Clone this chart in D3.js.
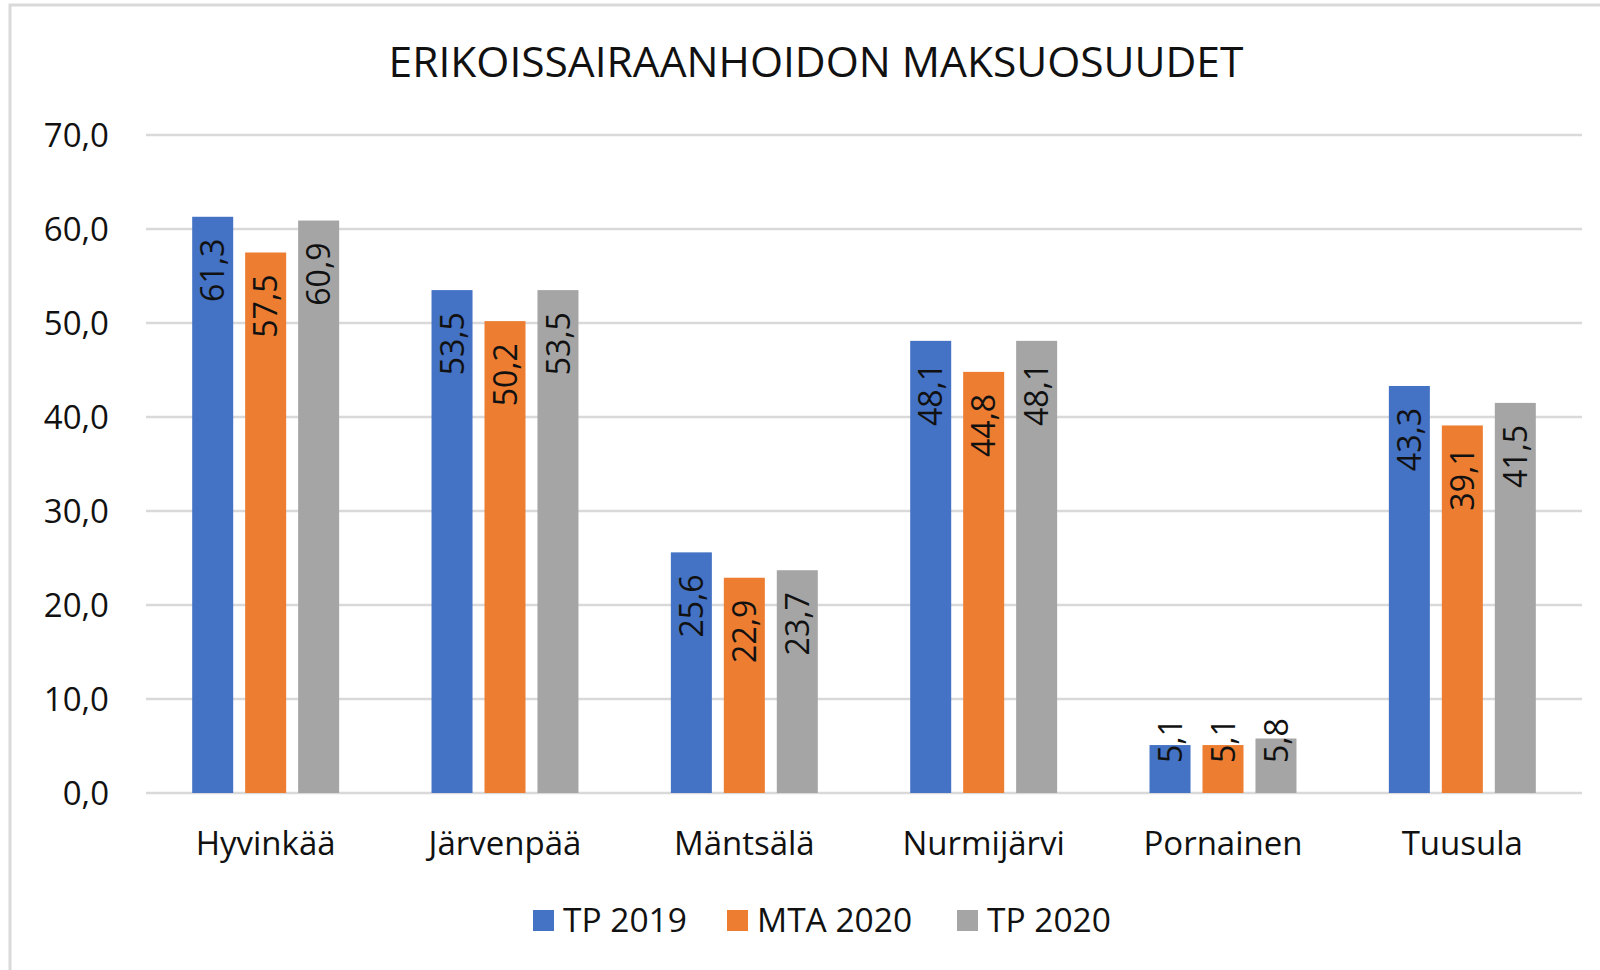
<!DOCTYPE html>
<html>
<head>
<meta charset="utf-8">
<script src="https://cdn.jsdelivr.net/npm/d3@7"></script>
<style>
  body { margin: 0; background: #fff; }
  text { font-family: "Open Sans", sans-serif; fill: #111; }
</style>
</head>
<body>
<div id="chart"></div>
<script>
const title = "ERIKOISSAIRAANHOIDON MAKSUOSUUDET";
const categories = ["Hyvinkää", "Järvenpää", "Mäntsälä", "Nurmijärvi", "Pornainen", "Tuusula"];
const seriesNames = ["TP 2019", "MTA 2020", "TP 2020"];
const tp2019 = [61.3, 53.5, 25.6, 48.1, 5.1, 43.3];
const mta2020 = [57.5, 50.2, 22.9, 44.8, 5.1, 39.1];
const tp2020 = [60.9, 53.5, 23.7, 48.1, 5.8, 41.5];
const yTicks = [0, 10, 20, 30, 40, 50, 60, 70];
const colors = ["#4472C4", "#ED7D31", "#A5A5A5"];

const series = [tp2019, mta2020, tp2020];
const fmt = (v) => v.toFixed(1).replace(".", ",");

const width = 1600, height = 970;
const svg = d3.select("#chart").append("svg")
  .attr("width", width)
  .attr("height", height);

// outer frame (runs off the right and bottom edges)
svg.append("rect")
  .attr("x", 10).attr("y", 5)
  .attr("width", 1620).attr("height", 1000)
  .attr("fill", "none")
  .attr("stroke", "#d9d9d9")
  .attr("stroke-width", 3);

svg.append("text")
  .attr("x", 816).attr("y", 77)
  .attr("text-anchor", "middle")
  .style("font-size", "42.5px")
  .text(title);

const x0 = d3.scaleBand()
  .domain(categories)
  .range([146, 1582])
  .paddingInner(0.386)
  .paddingOuter(0.193);

const x1 = d3.scaleBand()
  .domain(seriesNames)
  .range([0, x0.bandwidth()])
  .paddingInner(0.226);

const y = d3.scaleLinear()
  .domain([0, 70])
  .range([793, 135]);

// gridlines
svg.append("g")
  .selectAll("line")
  .data(yTicks)
  .join("line")
  .attr("x1", 146).attr("x2", 1582)
  .attr("y1", (d) => y(d)).attr("y2", (d) => y(d))
  .attr("stroke", "#d9d9d9")
  .attr("stroke-width", 2.5);

// y axis labels
svg.append("g")
  .selectAll("text")
  .data(yTicks)
  .join("text")
  .attr("x", 109)
  .attr("y", (d) => y(d))
  .attr("dy", "0.36em")
  .attr("text-anchor", "end")
  .style("font-size", "33px")
  .text(fmt);

// bars
const bars = [];
categories.forEach((c, i) => {
  seriesNames.forEach((s, j) => {
    bars.push({ cat: c, name: s, value: series[j][i], color: colors[j] });
  });
});

const groups = svg.append("g");
groups.selectAll("rect")
  .data(bars)
  .join("rect")
  .attr("x", (d) => x0(d.cat) + x1(d.name))
  .attr("y", (d) => y(d.value))
  .attr("width", x1.bandwidth())
  .attr("height", (d) => y(0) - y(d.value))
  .attr("fill", (d) => d.color);

// rotated value labels, inside end (kept off the baseline when the bar is too short)
const labels = groups.selectAll("text.val")
  .data(bars)
  .join("text")
  .attr("class", "val")
  .attr("text-anchor", "start")
  .style("font-size", "32px")
  .text((d) => fmt(d.value));

labels.each(function (d) {
  const len = this.getComputedTextLength();
  const cx = x0(d.cat) + x1(d.name) + x1.bandwidth() / 2;
  const startY = Math.min(y(d.value) + 22 + len, y(0) - 30);
  d3.select(this)
    .attr("transform", `translate(${cx},${startY}) rotate(-90)`)
    .attr("dy", "0.36em");
});

// category labels
svg.append("g")
  .selectAll("text")
  .data(categories)
  .join("text")
  .attr("x", (d) => x0(d) + x0.bandwidth() / 2)
  .attr("y", 855)
  .attr("text-anchor", "middle")
  .style("font-size", "33px")
  .text((d) => d);

// legend
const legendX = [533, 727, 957];
const legend = svg.append("g")
  .selectAll("g")
  .data(seriesNames)
  .join("g")
  .attr("transform", (d, i) => `translate(${legendX[i]},0)`);

legend.append("rect")
  .attr("x", 0).attr("y", 910)
  .attr("width", 21).attr("height", 21)
  .attr("fill", (d, i) => colors[i]);

legend.append("text")
  .attr("x", 30).attr("y", 932)
  .style("font-size", "33.5px")
  .text((d) => d);
</script>
</body>
</html>
